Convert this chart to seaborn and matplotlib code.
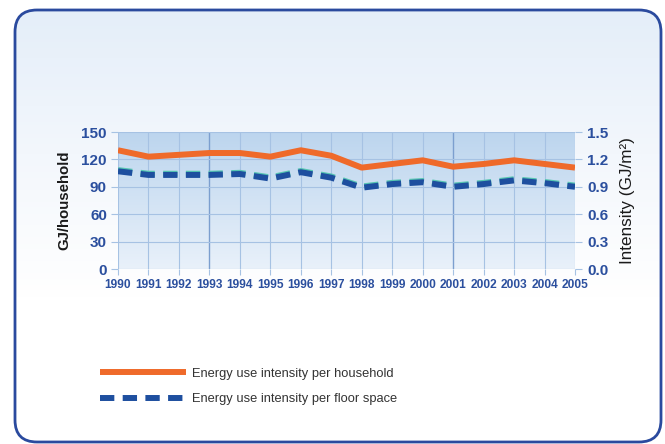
import numpy as np
import pandas as pd
import matplotlib
matplotlib.use("Agg")
import matplotlib.pyplot as plt
import seaborn as sns
from matplotlib.patches import FancyBboxPatch
from matplotlib.lines import Line2D
from matplotlib.colors import LinearSegmentedColormap

years = [1990, 1991, 1992, 1993, 1994, 1995, 1996, 1997, 1998, 1999, 2000, 2001, 2002, 2003, 2004, 2005]
household = [130, 123, 125, 127, 127, 123, 130, 124, 111, 115, 119, 112, 115, 119, 115, 111]
floor_space = [1.07, 1.03, 1.03, 1.03, 1.04, 0.99, 1.06, 1.00, 0.89, 0.93, 0.95, 0.90, 0.93, 0.97, 0.94, 0.90]
left_ticks = [0, 30, 60, 90, 120, 150]
right_ticks = [0.0, 0.3, 0.6, 0.9, 1.2, 1.5]
label_house = "Energy use intensity per household"
label_floor = "Energy use intensity per floor space"

df = pd.DataFrame({"year": years, "household": household, "floor": floor_space})

sns.set_theme(style="white")
plt.rcParams['font.family'] = ['Liberation Sans', 'DejaVu Sans']

W, H = 665, 444
fig = plt.figure(figsize=(W / 100, H / 100), dpi=100)
fig.patch.set_facecolor("white")

# background frame with gradient
bg = fig.add_axes([0, 0, 1, 1], zorder=-5)
bg.set_xlim(0, W)
bg.set_ylim(H, 0)
bg.axis("off")
grad = np.linspace(0, 1, 256).reshape(-1, 1)
cm_bg = LinearSegmentedColormap.from_list("bg", ["#e4eef9", "#f3f7fc", "#ffffff", "#ffffff"])
im = bg.imshow(grad, extent=[15, 661, 442, 10], cmap=cm_bg, aspect="auto", origin="upper")
frame = FancyBboxPatch((15, 10), 646, 432, boxstyle="round,pad=0,rounding_size=22",
                       facecolor="none", edgecolor="#2a4a9e", linewidth=2.0, zorder=3)
bg.add_patch(frame)
clip = FancyBboxPatch((15, 10), 646, 432, boxstyle="round,pad=0,rounding_size=22",
                      facecolor="none", edgecolor="none", transform=bg.transData)
bg.add_patch(clip)
im.set_clip_path(clip)

# main axes
L, R, T, B = 118, 575, 132, 269
ax = fig.add_axes([L / W, 1 - B / H, (R - L) / W, (B - T) / H])
ax.set_xlim(1990, 2005)
ax.set_ylim(0, 150)
cm_pa = LinearSegmentedColormap.from_list("pa", ["#bcd5ee", "#e9f1fa"])
ax.imshow(grad, extent=[1990, 2005, 0, 150], cmap=cm_pa, aspect="auto", origin="upper", zorder=0)

grid_c = "#a6c2e3"
for y in years:
    c = "#7c9fcf" if y in (1993, 2001) else grid_c
    ax.axvline(y, color=c, lw=1.0 if y in (1993, 2001) else 0.8, zorder=1)
for v in left_ticks:
    ax.axhline(v, color=grid_c, lw=0.8, zorder=1)

for s in ax.spines.values():
    s.set_visible(False)

ax2 = ax.twinx()
ax2.set_ylim(0, 1.5)
for s in ax2.spines.values():
    s.set_visible(False)

orange = "#ef6a2a"
blue = "#1e4f9f"
sns.lineplot(data=df, x="year", y="household", ax=ax, color=orange, lw=4.3,
             solid_capstyle="butt", zorder=4)
sns.lineplot(data=df, x="year", y="floor", ax=ax2, color="#56c6b2", lw=4.3,
             zorder=3, dashes=False)
ax2.lines[-1].set_dashes([2.4, 1.4])
ax2.lines[-1].set_transform(ax2.lines[-1].get_transform() +
                            matplotlib.transforms.ScaledTranslation(0, 1.2 / 100, fig.dpi_scale_trans))
sns.lineplot(data=df, x="year", y="floor", ax=ax2, color=blue, lw=4.3, zorder=4)
ax2.lines[-1].set_dashes([2.4, 1.4])

tick_c = "#2b4f9e"
ax.set_xticks(years)
ax.set_xticklabels([str(y) for y in years])
ax.set_yticks(left_ticks)
ax.set_yticklabels([str(v) for v in left_ticks])
ax2.set_yticks(right_ticks)
ax2.set_yticklabels([f"{v:.1f}" for v in right_ticks])

ax.tick_params(axis="x", bottom=True, length=4, width=0.8, color=grid_c, pad=3,
               labelsize=8.6, labelcolor=tick_c)
ax.tick_params(axis="y", left=True, length=5, width=0.8, color=grid_c, pad=3,
               labelsize=11, labelcolor=tick_c)
ax2.tick_params(axis="y", right=True, length=5, width=0.8, color=grid_c, pad=4,
                labelsize=11, labelcolor=tick_c)
for lab in ax.get_xticklabels() + ax.get_yticklabels() + ax2.get_yticklabels():
    lab.set_fontweight("bold")

ax.set_xlabel("")
ax.set_ylabel("GJ/household", fontsize=10.8, fontweight="bold", color="#1a1a1a", labelpad=7)
ax2.set_ylabel("Intensity (GJ/m²)", fontsize=12.3, color="#1a1a1a", labelpad=8)

handles = [Line2D([0], [0], color=orange, lw=4.3, solid_capstyle="butt"),
           Line2D([0], [0], color=blue, lw=4.3, dashes=[2.4, 1.4])]
fig.legend(handles, [label_house, label_floor], loc="upper left",
           bbox_to_anchor=(88 / W, 1 - 356 / H), frameon=False, fontsize=9.3,
           handlelength=6.7, handletextpad=0.45, labelspacing=1.05, labelcolor="#333333")

fig.savefig("out.png", dpi=100)
